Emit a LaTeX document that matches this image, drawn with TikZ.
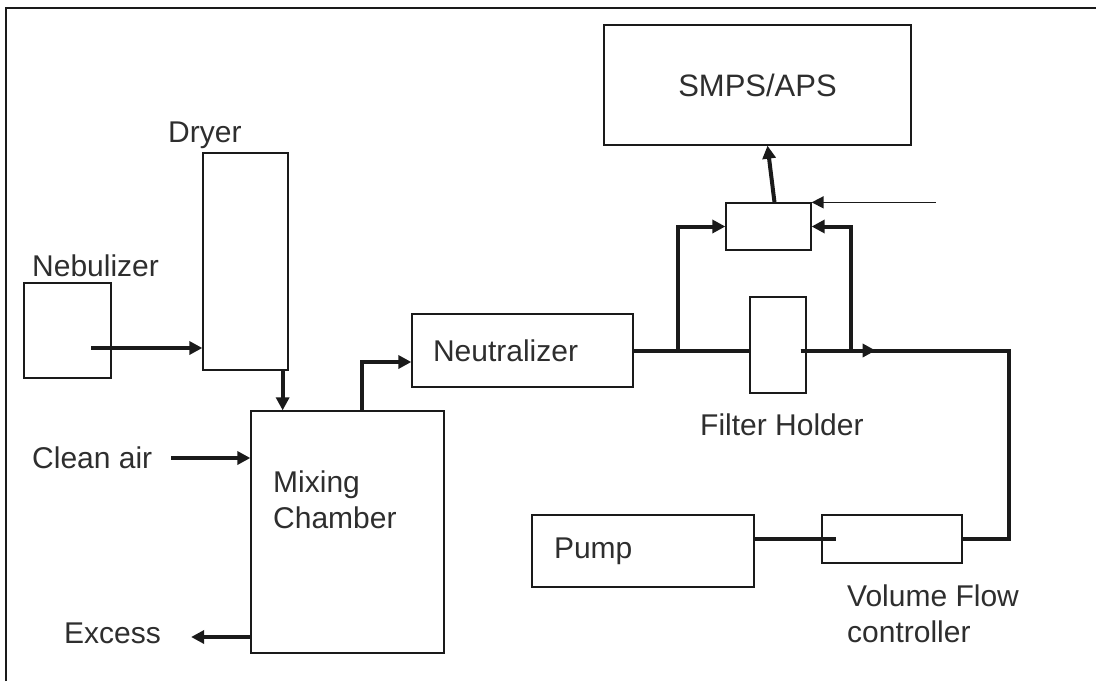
\documentclass[tikz,border=0pt]{standalone}
\usepackage{fontspec}
\setmainfont{Liberation Sans}
\usepackage{xcolor}
\usetikzlibrary{arrows.meta, positioning, calc}
\definecolor{ink}{HTML}{1A1A1A}
\definecolor{label}{HTML}{2E2E2E}
\tikzset{
  every picture/.style={font=\fontsize{30}{36}\selectfont, >=Triangle},
  box/.style={draw=ink, line width=1.3pt, inner sep=0pt, text=label},
  txt/.style={inner sep=0pt, anchor=west, align=left, text=label},
  pipe/.style={line width=4pt, ink},
  flow/.style={-{Triangle[length=13pt,width=13pt]}, line width=4pt, ink},
  flowthin/.style={-{Triangle[length=12pt,width=12pt]}, line width=1.6pt, ink},
}

\begin{document}
\begin{tikzpicture}[x=1pt, y=-1pt]
  \useasboundingbox (0,0) rectangle (1096,681);
  \draw[line width=1.6pt, ink] (6,681) -- (6,8) -- (1096,8);
  \node[box, minimum width=87pt, minimum height=95pt] (neb) at (67.5,330.5) {};
  \node[box, minimum width=85pt, minimum height=217pt] (dryer) at (245.5,261.5) {};
  \node[box, minimum width=193pt, minimum height=242pt] (mix) at (347.5,532) {};
  \node[box, minimum width=221pt, minimum height=73pt, text width=179pt, inner xsep=21pt, align=left] (neut) at (522.5,350.5) {Neutralizer};
  \node[box, minimum width=307pt, minimum height=120pt, font=\fontsize{31}{36}\selectfont] (smps) at (757.5,85) {SMPS/APS};
  \node[box, minimum width=85pt, minimum height=47pt] (sbox) at (768.5,226.5) {};
  \node[box, minimum width=56pt, minimum height=96pt] (fh) at (778,345) {};
  \node[box, minimum width=222pt, minimum height=72pt, text width=178pt, inner xsep=22pt, align=left] (pump) at (643,551) {Pump};
  \node[box, minimum width=140pt, minimum height=48pt] (vfc) at (892,539) {};
  \node[txt] (neblbl) at (32,266) {Nebulizer};
  \node[txt] (dryerlbl) at (168,135) {Dryer};
  \node[txt] (clean) at (32,458) {Clean air};
  \node[txt] (excess) at (64,633) {Excess};
  \node[txt] (mixlbl) at (273,500) {Mixing\\Chamber};
  \node[txt] (fhlbl) at (700,425) {Filter Holder};
  \node[txt] (vfclbl) at (847,614) {Volume Flow\\controller};
  \coordinate (nebout) at (91,348);
  \coordinate (fhout) at ($(neut.east -| fh.east)+(-6,0)$);
  \coordinate (mid) at ($(neut.east -| fh.east)+(69,0)$);
  \coordinate (rt) at ($(neut.east)+(375,0)$);
  \coordinate (bl) at ($(neut.east)+(44,0)$);
  \coordinate (br) at ($(neut.east)+(217,0)$);
  \coordinate (ext) at ($(sbox.north east)+(124,0)$);
  \draw[flow] (nebout) -- (nebout -| dryer.west);
  \draw[flow] ([xshift=-6pt]dryer.south east) -- ([xshift=-6pt]dryer.south east |- mix.north);
  \draw[flow] ([xshift=112pt]mix.north west) |- ([yshift=-11.5pt]neut.west);
  \draw[flow] ([xshift=19pt]clean.east) -- (clean.east -| mix.west);
  \draw[flow] ($(mix.west |- excess.east)+(0,4)$) -- ($(excess.east)+(30,4)$);
  \draw[pipe] (neut.east) -- (neut.east -| fh.west);
  \draw[pipe] (fhout) -- (rt) |- (vfc.east);
  \draw[flow] (fhout) -- (mid);
  \foreach \s/\e in {bl/west, br/east} \draw[flow] (\s) |- (sbox.\e);
  \draw[flow] ([xshift=6pt]sbox.north) -- ([xshift=10pt]smps.south);
  \draw[flowthin] (ext) -- (sbox.north east);
  \draw[pipe] (pump.east |- vfc.west) -- ([xshift=15pt]vfc.west);
\end{tikzpicture}
\end{document}
